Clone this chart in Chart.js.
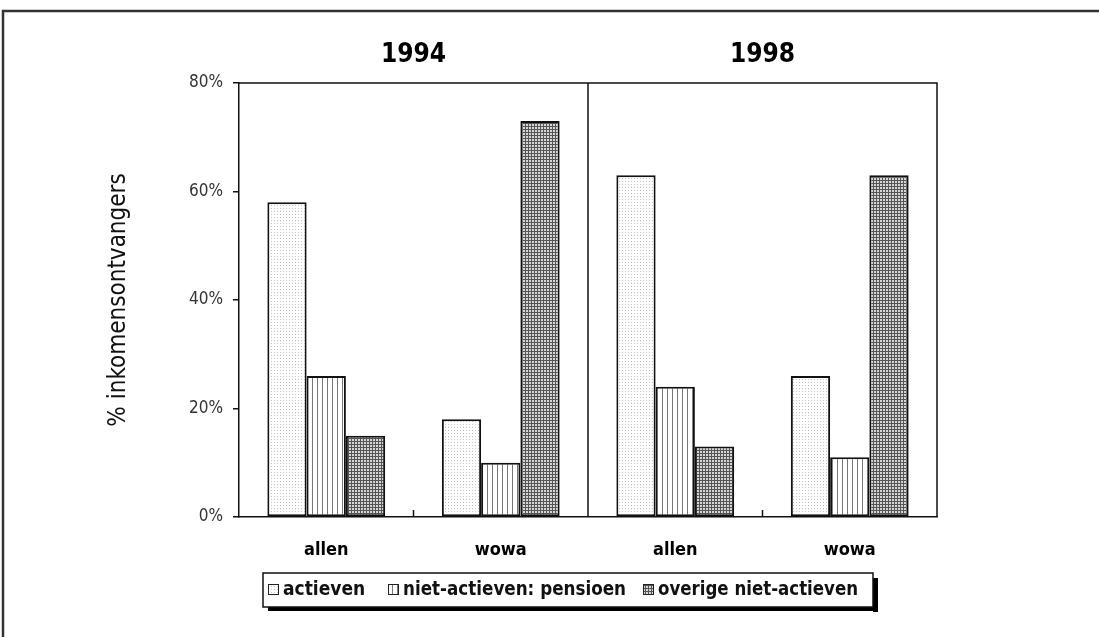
<!DOCTYPE html>
<html>
<head>
<meta charset="utf-8">
<script src="https://cdn.jsdelivr.net/npm/chart.js@4.4.1/dist/chart.umd.min.js"></script>
<style>
  html, body { margin: 0; padding: 0; background: #fff; }
  #wrap { position: relative; width: 1099px; height: 637px; }
</style>
</head>
<body>
<div id="wrap"><canvas id="chart" width="1099" height="637"></canvas></div>
<script>
// data
const years = ['1994', '1998'];
const categories = ['allen', 'wowa', 'allen', 'wowa'];
const seriesNames = ['actieven', 'niet-actieven: pensioen', 'overige niet-actieven'];
const actieven = [58, 18, 63, 26];
const pensioen = [26, 10, 24, 11];
const overige = [15, 73, 13, 63];
const yTicks = [0, 20, 40, 60, 80];

const FONT = '"Liberation Sans Narrow", "Arial Narrow", "DejaVu Sans Condensed", "Liberation Sans", Arial, sans-serif';

function makePattern(kind) {
    const c = document.createElement('canvas');
    const g = c.getContext('2d');
    if (kind == 'dots') {
        c.width = 3; c.height = 3;
        g.fillStyle = '#fff'; g.fillRect(0, 0, 3, 3);
        g.fillStyle = '#c4c4c4'; g.fillRect(1, 1, 1, 1);
    } else if (kind == 'vlines') {
        c.width = 5; c.height = 5;
        g.fillStyle = '#fff'; g.fillRect(0, 0, 5, 5);
        g.fillStyle = '#777'; g.fillRect(2, 0, 1, 5);
    } else {
        c.width = 3; c.height = 3;
        g.fillStyle = '#d6d6d6'; g.fillRect(0, 0, 3, 3);
        g.fillStyle = '#555'; g.fillRect(0, 0, 3, 1); g.fillRect(0, 0, 1, 3);
    }
    return g.createPattern(c, 'repeat');
}

const fills = [makePattern('dots'), makePattern('vlines'), makePattern('grid')];

// frame, panel lines, year titles and legend
const decor = {
    id: 'decor',
    afterDraw(chart) {
        const ctx = chart.ctx;
        const a = chart.chartArea;
        const x = chart.scales.x;
        ctx.save();
        ctx.strokeStyle = '#333';
        ctx.lineWidth = 2.5;
        ctx.beginPath();
        ctx.moveTo(3, 637); ctx.lineTo(3, 11); ctx.lineTo(1099, 11);
        ctx.stroke();

        ctx.lineWidth = 1.5;
        ctx.strokeStyle = '#111';
        ctx.beginPath();
        ctx.moveTo(a.left, a.top); ctx.lineTo(a.right, a.top); ctx.lineTo(a.right, a.bottom);
        const mid = (x.getPixelForTick(1) + x.getPixelForTick(2)) / 2;
        ctx.moveTo(mid, a.top); ctx.lineTo(mid, a.bottom);
        [0, 2].forEach(i => {
            const b = (x.getPixelForTick(i) + x.getPixelForTick(i + 1)) / 2;
            ctx.moveTo(b, a.bottom); ctx.lineTo(b, a.bottom - 7);
        });
        ctx.stroke();

        ctx.fillStyle = '#000';
        ctx.font = 'bold 26px ' + FONT;
        ctx.textAlign = 'center';
        ctx.textBaseline = 'middle';
        years.forEach((yr, i) => {
            const cx = (x.getPixelForTick(i * 2) + x.getPixelForTick(i * 2 + 1)) / 2;
            ctx.fillText(yr, cx, 55);
        });

        // legend
        const L = 263, T = 573, R = 873, B = 607;
        ctx.fillStyle = '#000';
        ctx.fillRect(L + 5, B, R - L, 4);
        ctx.fillRect(R, T + 5, 5, B - T);
        ctx.fillStyle = '#fff';
        ctx.fillRect(L, T, R - L, B - T);
        ctx.lineWidth = 1.5;
        ctx.strokeStyle = '#111';
        ctx.strokeRect(L, T, R - L, B - T);
        ctx.font = 'bold 19px ' + FONT;
        ctx.textAlign = 'left';
        const itemX = [268, 388, 643];
        const itemW = [92, 223, 200];
        seriesNames.forEach((name, i) => {
            ctx.fillStyle = fills[i];
            ctx.fillRect(itemX[i], 584, 11, 11);
            ctx.lineWidth = 1;
            ctx.strokeStyle = '#222';
            ctx.strokeRect(itemX[i] + 0.5, 584.5, 10, 10);
            ctx.fillStyle = '#111';
            ctx.fillText(name, itemX[i] + 15, 590, itemW[i]);
        });
        ctx.restore();
    }
};

const ctx = document.getElementById('chart').getContext('2d');
new Chart(ctx, {
    type: 'bar',
    data: {
        labels: categories,
        datasets: [
            { label: seriesNames[0], data: actieven, backgroundColor: fills[0] },
            { label: seriesNames[1], data: pensioen, backgroundColor: fills[1] },
            { label: seriesNames[2], data: overige, backgroundColor: fills[2] }
        ].map(d => Object.assign(d, {
            borderColor: '#111',
            borderWidth: 2,
            borderSkipped: false,
            barPercentage: 1,
            categoryPercentage: 0.675
        }))
    },
    options: {
        responsive: false,
        animation: false,
        devicePixelRatio: 1,
        layout: { padding: { left: 0, top: 83, right: 162, bottom: 0 } },
        plugins: { legend: { display: false }, tooltip: { enabled: false } },
        scales: {
            x: {
                afterFit: s => { s.height = 120; },
                grid: { display: false },
                border: { display: true, color: '#111', width: 1.5 },
                ticks: { color: '#000', padding: 15, font: { family: FONT, size: 18, weight: 'bold' } }
            },
            y: {
                min: 0,
                max: 80,
                afterFit: s => { s.width = 239; },
                afterBuildTicks: s => { s.ticks = yTicks.map(v => ({ value: v })); },
                grid: { drawOnChartArea: false, tickLength: 6, color: '#111', lineWidth: 1.5 },
                border: { display: true, color: '#111', width: 1.5 },
                ticks: {
                    color: '#333',
                    padding: 10,
                    font: { family: FONT, size: 17 },
                    callback: v => v + '%'
                },
                title: {
                    display: true,
                    text: '% inkomensontvangers',
                    color: '#111',
                    padding: { top: 104, bottom: 0 },
                    font: { family: FONT, size: 24 }
                }
            }
        }
    },
    plugins: [decor]
});
</script>
</body>
</html>
